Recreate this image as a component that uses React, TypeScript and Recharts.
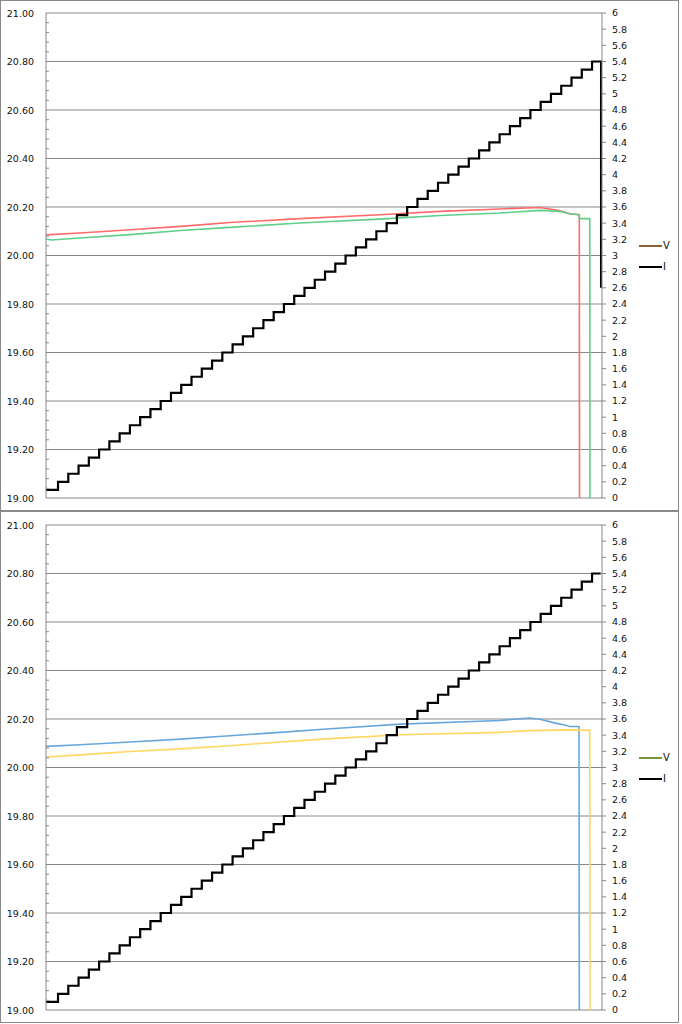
import React from 'react';
import { LineChart, Line, XAxis, YAxis, CartesianGrid, Legend } from 'recharts';

const FONT = '"DejaVu Sans", Verdana, sans-serif';
const GRID = '#878787';

// ---------- tick labels ----------
const leftMajorTicks = [19.0, 19.2, 19.4, 19.6, 19.8, 20.0, 20.2, 20.4, 20.6, 20.8, 21.0];
const rightTicks = [0, 0.2, 0.4, 0.6, 0.8, 1, 1.2, 1.4, 1.6, 1.8, 2, 2.2, 2.4, 2.6, 2.8, 3, 3.2, 3.4, 3.6, 3.8, 4, 4.2, 4.4, 4.6, 4.8, 5, 5.2, 5.4, 5.6, 5.8, 6];

// ---------- current staircase (I) ----------
const currentTimes = [0, 1.17, 2.17, 3.17, 4.17, 5.17, 6.17, 7.17, 8.17, 9.17, 10.17, 11.17, 12.17, 13.17, 14.17, 15.17, 16.17, 17.17, 18.17, 19.17, 20.17, 21.17, 22.17, 23.17, 24.17, 25.17, 26.17, 27.17, 28.17, 29.17, 30.17, 31.17, 32.17, 33.17, 34.17, 35.17, 36.17, 37.17, 38.17, 39.17, 40.17, 41.17, 42.17, 43.17, 44.17, 45.17, 46.17, 47.17, 48.17, 49.17, 50.17, 51.17, 52.17, 53.17, 54.0];
const currentLevels = [0.1, 0.2, 0.3, 0.4, 0.5, 0.6, 0.7, 0.8, 0.9, 1.0, 1.1, 1.2, 1.3, 1.4, 1.5, 1.6, 1.7, 1.8, 1.9, 2.0, 2.1, 2.2, 2.3, 2.4, 2.5, 2.6, 2.7, 2.8, 2.9, 3.0, 3.1, 3.2, 3.3, 3.4, 3.5, 3.6, 3.7, 3.8, 3.9, 4.0, 4.1, 4.2, 4.3, 4.4, 4.5, 4.6, 4.7, 4.8, 4.9, 5.0, 5.1, 5.2, 5.3, 5.4, 5.4];
const topCurrentTailTimes = [54.05];
const topCurrentTailLevels = [2.6];

// ---------- top chart voltages ----------
const topRedTimes = [0, 3.3, 8.2, 13.1, 17.9, 24.7, 32.5, 38.4, 44.2, 48.1, 50.0, 51.0, 51.93, 51.95];
const topRedValues = [20.085, 20.093, 20.106, 20.12, 20.136, 20.152, 20.168, 20.182, 20.192, 20.198, 20.185, 20.172, 20.168, 19.0];
const topGreenTimes = [0, 0.5, 3.3, 8.2, 13.1, 17.9, 24.7, 32.5, 38.4, 44.2, 48.1, 50.0, 51.0, 51.9, 51.95, 52.95, 52.97];
const topGreenValues = [20.068, 20.064, 20.072, 20.086, 20.103, 20.116, 20.134, 20.15, 20.165, 20.175, 20.186, 20.182, 20.172, 20.168, 20.152, 20.152, 19.0];

// ---------- bottom chart voltages ----------
const botBlueTimes = [0, 3.3, 8.2, 13.1, 17.9, 22.8, 27.7, 34.5, 44.2, 47.1, 48.1, 49.6, 50.5, 51.0, 51.9, 51.93];
const botBlueValues = [20.087, 20.094, 20.105, 20.117, 20.131, 20.145, 20.16, 20.179, 20.194, 20.204, 20.199, 20.183, 20.175, 20.169, 20.169, 19.0];
const botYellowTimes = [0, 3.3, 8.2, 13.1, 17.9, 22.8, 27.7, 34.5, 44.2, 47.1, 51.0, 52.95, 52.97];
const botYellowValues = [20.043, 20.052, 20.066, 20.077, 20.09, 20.105, 20.119, 20.135, 20.145, 20.152, 20.155, 20.153, 19.0];

const zip = (ts: number[], vs: number[]) => ts.map((t, i) => ({ t, v: vs[i] }));

// minor ticks every 0.04 between major ticks (left axis)
const leftAllTicks: number[] = [];
leftMajorTicks.forEach((m, i) => {
  leftAllTicks.push(m);
  if (i < leftMajorTicks.length - 1) {
    for (let j = 1; j < 5; j++) leftAllTicks.push(Math.round((m + 0.04 * j) * 100) / 100);
  }
});

const TICK_MARGIN = 12;

const LeftTick = (props: any) => {
  const { x, y, payload } = props;
  const v = payload.value as number;
  const major = Math.abs(v * 5 - Math.round(v * 5)) < 1e-6;
  const edge = x + TICK_MARGIN;
  if (major) {
    return (
      <text x={x} y={y} dy={3.6} textAnchor="end" fontFamily={FONT} fontSize={9.5} fill="#111">
        {v.toFixed(2)}
      </text>
    );
  }
  return <line x1={edge} x2={edge + 3} y1={y} y2={y} stroke={GRID} strokeWidth={1} />;
};

const LegendBox = ({ vColor }: { vColor: string }) => (
  <div style={{ fontFamily: FONT, fontSize: 10, color: '#111' }}>
    {[{ c: vColor, l: 'V' }, { c: '#000', l: 'I' }].map((e) => (
      <div key={e.l} style={{ display: 'flex', alignItems: 'center', height: 21 }}>
        <span style={{ display: 'inline-block', width: 23, height: 2, background: e.c, marginRight: 1 }} />
        <span>{e.l}</span>
      </div>
    ))}
  </div>
);

type Series = { data: { t: number; v: number }[]; color: string };

const Panel = ({ volts, legendColor, current }: { volts: Series[]; legendColor: string; current: { t: number; v: number }[] }) => (
  <LineChart width={679} height={511} margin={{ top: 13, right: 0, bottom: 13, left: 0 }}>
    <CartesianGrid
      yAxisId="v"
      vertical={false}
      horizontal
      horizontalValues={leftMajorTicks}
      stroke={GRID}
      strokeDasharray=""
    />
    <XAxis type="number" dataKey="t" domain={[0, 54.14]} hide allowDataOverflow />
    <YAxis
      yAxisId="v"
      orientation="left"
      width={46}
      domain={[19, 21]}
      ticks={leftAllTicks}
      interval={0}
      tickSize={0}
      tickMargin={TICK_MARGIN}
      tickLine={false}
      axisLine={{ stroke: GRID }}
      tick={<LeftTick />}
      allowDataOverflow
    />
    <YAxis
      yAxisId="i"
      orientation="right"
      width={77}
      domain={[0, 6]}
      ticks={rightTicks}
      interval={0}
      tickSize={4}
      tickMargin={6}
      tickLine={{ stroke: GRID }}
      axisLine={{ stroke: GRID }}
      tick={{ fontFamily: FONT, fontSize: 9.5, fill: '#111' }}
      tickFormatter={(v: number) => String(parseFloat(v.toFixed(1)))}
      allowDataOverflow
    />
    {volts.map((s, i) => (
      <Line
        key={i}
        yAxisId="v"
        data={s.data}
        dataKey="v"
        type="linear"
        stroke={s.color}
        strokeWidth={1.6}
        dot={false}
        activeDot={false}
        isAnimationActive={false}
      />
    ))}
    <Line
      yAxisId="i"
      data={current}
      dataKey="v"
      type="stepAfter"
      stroke="#000"
      strokeWidth={2.2}
      dot={false}
      activeDot={false}
      isAnimationActive={false}
    />
    <Legend
      layout="horizontal"
      align="center"
      verticalAlign="middle"
      wrapperStyle={{ left: 639, top: 235, width: 40, height: 42 }}
      content={() => <LegendBox vColor={legendColor} />}
    />
  </LineChart>
);

const topCurrent = zip(currentTimes, currentLevels).concat(zip(topCurrentTailTimes, topCurrentTailLevels));
const botCurrent = zip(currentTimes, currentLevels);

export default function App() {
  return (
    <div style={{ position: 'absolute', left: 0, top: 0, width: 682, height: 1024, background: '#fff' }}>
      <div style={{ position: 'absolute', left: 0, top: 0 }}>
        <Panel
          volts={[
            { data: zip(topRedTimes, topRedValues), color: '#FF6B6B' },
            { data: zip(topGreenTimes, topGreenValues), color: '#5FCF8A' },
          ]}
          legendColor="#8C6239"
          current={topCurrent}
        />
      </div>
      <div style={{ position: 'absolute', left: 0, top: 512 }}>
        <Panel
          volts={[
            { data: zip(botBlueTimes, botBlueValues), color: '#68A7DC' },
            { data: zip(botYellowTimes, botYellowValues), color: '#FFD760' },
          ]}
          legendColor="#77933C"
          current={botCurrent}
        />
      </div>
      <div style={{ position: 'absolute', left: 0, top: 0, width: 679, height: 511, border: '1px solid #8a8a8a', boxSizing: 'border-box', pointerEvents: 'none' }} />
      <div style={{ position: 'absolute', left: 0, top: 511, width: 679, height: 512, border: '1px solid #8a8a8a', boxSizing: 'border-box', pointerEvents: 'none' }} />
    </div>
  );
}
